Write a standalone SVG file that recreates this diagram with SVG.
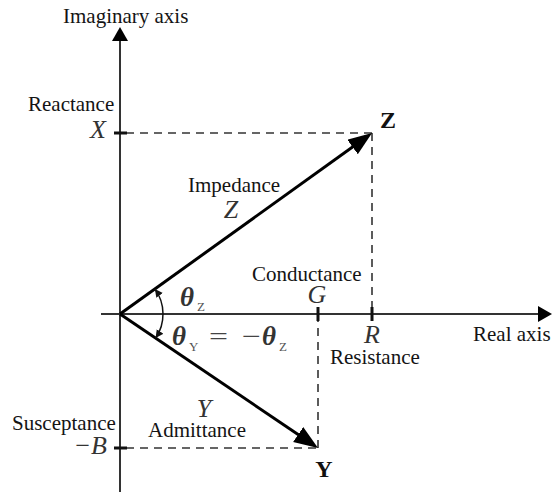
<svg xmlns="http://www.w3.org/2000/svg" width="552" height="492" viewBox="0 0 552 492">
<style>
.lbl{font-family:"Liberation Serif","Times New Roman",serif;font-size:21px;fill:#141414}
.math{font-family:"Liberation Serif","Times New Roman",serif;font-size:26px;font-style:italic;fill:#333}
.bold{font-family:"Liberation Serif","Times New Roman",serif;font-size:24px;font-weight:bold;fill:#111}
.th{font-family:"Liberation Serif","Times New Roman",serif;font-size:27px;font-weight:bold;font-style:italic;fill:#333}
.sub{font-family:"Liberation Serif","Times New Roman",serif;font-size:13px;fill:#555}
.op{font-family:"Liberation Serif","Times New Roman",serif;font-size:26px;fill:#444}
.axis{stroke:#333;stroke-width:2;fill:none}
.dash{stroke:#333;stroke-width:1.6;stroke-dasharray:8 6;fill:none}
.tick{stroke:#111;stroke-width:3;fill:none}
.vec{stroke:#000;stroke-width:3;fill:none}
.arc{stroke:#111;stroke-width:1.5;fill:none}
</style>
<defs>
<marker id="axh" markerUnits="userSpaceOnUse" markerWidth="16" markerHeight="18" refX="4" refY="8" orient="auto">
<path d="M0,0 L14,8 L0,16 z" fill="#000"/>
</marker>
<marker id="vech" markerUnits="userSpaceOnUse" markerWidth="26" markerHeight="20" refX="12" refY="9" orient="auto">
<path d="M0,0 L24,9 L0,18 z" fill="#000"/>
</marker>
<marker id="arch" markerUnits="userSpaceOnUse" markerWidth="10" markerHeight="10" refX="8" refY="4" orient="auto-start-reverse">
<path d="M0,0 L8,4 L0,8 z" fill="#111"/>
</marker>
</defs>

<g id="connectors">
<line class="axis" x1="120" y1="492" x2="120" y2="37" marker-end="url(#axh)"/>
<line class="axis" x1="101" y1="314" x2="542" y2="314" marker-end="url(#axh)"/>
<line class="dash" x1="126" y1="133" x2="372" y2="133"/>
<line class="dash" x1="372" y1="133" x2="372" y2="314"/>
<line class="dash" x1="318" y1="314" x2="318" y2="448"/>
<line class="dash" x1="126" y1="448" x2="318" y2="448"/>
<line class="tick" x1="114" y1="133" x2="127" y2="133"/>
<line class="tick" x1="114" y1="448" x2="127" y2="448"/>
<line class="tick" x1="318" y1="307" x2="318" y2="321"/>
<line class="tick" x1="372" y1="307" x2="372" y2="321"/>
<line class="vec" x1="120" y1="314" x2="362.3" y2="140" marker-end="url(#vech)"/>
<line class="vec" x1="120" y1="314" x2="308.1" y2="441.3" marker-end="url(#vech)"/>
<path class="arc" d="M154.9,288.9 A43,43 0 0 1 155.6,338.1" marker-start="url(#arch)" marker-end="url(#arch)"/>
</g>

<g id="imag-axis"><text class="lbl" x="63" y="23">Imaginary axis</text></g>
<g id="real-axis"><text class="lbl" x="473" y="341">Real axis</text></g>
<g id="reactance">
<text class="lbl" x="28" y="111">Reactance</text>
<text class="math" x="106" y="138" text-anchor="end">X</text>
</g>
<g id="Z-point"><text class="bold" x="380" y="128">Z</text></g>
<g id="impedance">
<text class="lbl" x="188" y="192">Impedance</text>
<text class="math" x="231" y="218" text-anchor="middle">Z</text>
</g>
<g id="theta-Z">
<text class="th" x="180" y="306">θ</text>
<text class="sub" x="197" y="311">Z</text>
</g>
<g id="theta-Y">
<text class="th" x="172" y="345">θ</text>
<text class="sub" x="189" y="351">Y</text>
<text class="op" x="209" y="345" textLength="19" lengthAdjust="spacingAndGlyphs">=</text>
<text class="op" x="242" y="345" textLength="19" lengthAdjust="spacingAndGlyphs">−</text>
<text class="th" x="262" y="345">θ</text>
<text class="sub" x="279" y="351">Z</text>
</g>
<g id="conductance">
<text class="lbl" x="252" y="281">Conductance</text>
<text class="math" x="317" y="303" text-anchor="middle">G</text>
</g>
<g id="resistance">
<text class="math" x="372" y="343" text-anchor="middle">R</text>
<text class="lbl" x="330" y="364">Resistance</text>
</g>
<g id="susceptance">
<text class="lbl" x="12" y="430">Susceptance</text>
<text class="math" x="107" y="454" text-anchor="end">−B</text>
</g>
<g id="admittance">
<text class="math" x="204" y="417" text-anchor="middle">Y</text>
<text class="lbl" x="148" y="437">Admittance</text>
</g>
<g id="Y-point"><text class="bold" x="324" y="477" text-anchor="middle">Y</text></g>
</svg>
